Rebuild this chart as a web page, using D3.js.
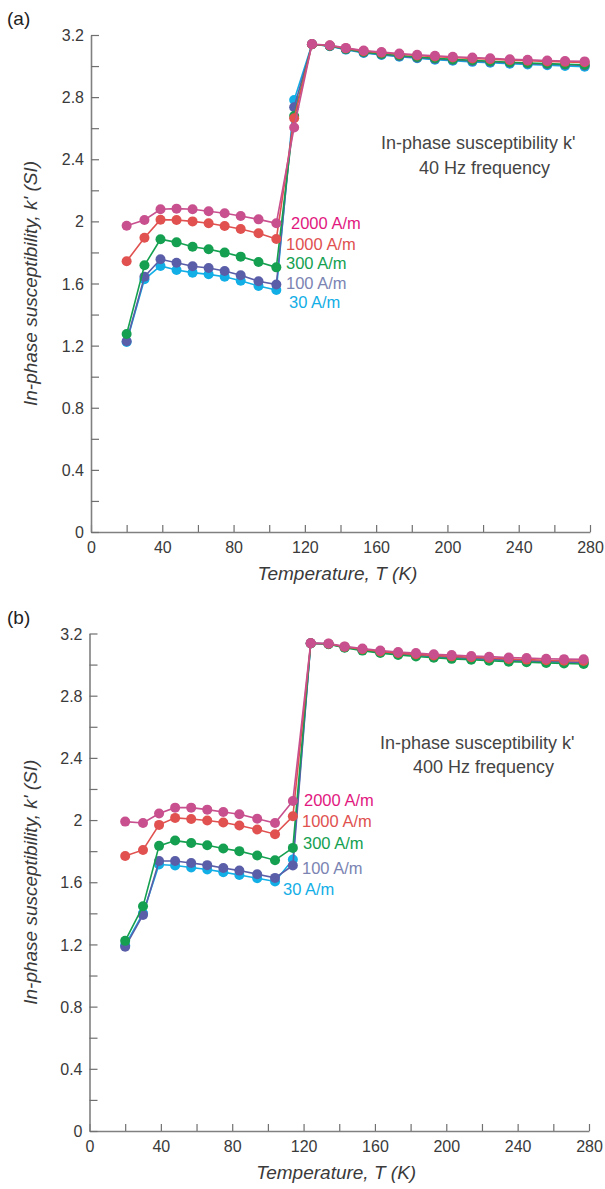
<!DOCTYPE html>
<html>
<head>
<meta charset="utf-8">
<script src="https://cdn.jsdelivr.net/npm/d3@7"></script>
<style>
  body { margin: 0; background: #fff; }
  svg { display: block; font-family: "Liberation Sans", Arial, Helvetica, sans-serif; }
</style>
</head>
<body>
<svg width="605" height="1189"></svg>
<script>

	// temperatura (K) de cada medida
	var temps = [20, 30, 39, 48, 57, 66, 75, 84, 94, 104, 114, 124, 134, 143, 153, 163, 173, 183, 193, 203, 214, 224, 235, 245, 256, 266, 277];

	var fieldNames = ["30 A/m", "100 A/m", "300 A/m", "1000 A/m", "2000 A/m"];

	// (a) 40 Hz
	var k30_40 = [1.223, 1.627, 1.713, 1.687, 1.670, 1.659, 1.644, 1.618, 1.584, 1.558, 2.782,
		3.140, 3.128, 3.106, 3.084, 3.071, 3.060, 3.050, 3.041, 3.034, 3.027, 3.021, 3.015, 3.010, 3.005, 3.001, 2.996];
	var k100_40 = [1.228, 1.644, 1.756, 1.734, 1.711, 1.700, 1.681, 1.653, 1.614, 1.593, 2.735,
		3.140, 3.129, 3.108, 3.088, 3.075, 3.064, 3.054, 3.046, 3.039, 3.033, 3.027, 3.021, 3.016, 3.012, 3.008, 3.004];
	var k300_40 = [1.275, 1.717, 1.885, 1.865, 1.837, 1.820, 1.799, 1.773, 1.739, 1.704, 2.679,
		3.140, 3.130, 3.110, 3.090, 3.078, 3.068, 3.058, 3.050, 3.043, 3.037, 3.031, 3.025, 3.020, 3.016, 3.012, 3.008];
	var k1000_40 = [1.743, 1.895, 2.011, 2.009, 2.000, 1.988, 1.970, 1.951, 1.923, 1.887, 2.664,
		3.140, 3.132, 3.114, 3.096, 3.086, 3.076, 3.068, 3.061, 3.055, 3.049, 3.044, 3.038, 3.034, 3.030, 3.027, 3.024];
	var k2000_40 = [1.972, 2.009, 2.078, 2.082, 2.078, 2.065, 2.052, 2.035, 2.013, 1.988, 2.605,
		3.142, 3.134, 3.117, 3.100, 3.090, 3.081, 3.073, 3.066, 3.060, 3.055, 3.050, 3.044, 3.040, 3.036, 3.033, 3.030];

	// (b) 400 Hz
	var k30_400 = [1.195, 1.400, 1.714, 1.708, 1.695, 1.682, 1.665, 1.647, 1.626, 1.605, 1.746,
		3.137, 3.133, 3.111, 3.094, 3.079, 3.067, 3.058, 3.050, 3.044, 3.038, 3.032, 3.026, 3.022, 3.018, 3.015, 3.012];
	var k100_400 = [1.185, 1.390, 1.737, 1.737, 1.724, 1.710, 1.692, 1.675, 1.652, 1.628, 1.708,
		3.137, 3.133, 3.112, 3.095, 3.080, 3.069, 3.060, 3.052, 3.046, 3.040, 3.034, 3.028, 3.024, 3.020, 3.017, 3.014];
	var k300_400 = [1.223, 1.446, 1.834, 1.868, 1.853, 1.838, 1.817, 1.800, 1.772, 1.742, 1.821,
		3.136, 3.131, 3.108, 3.090, 3.074, 3.062, 3.052, 3.044, 3.037, 3.031, 3.025, 3.019, 3.015, 3.011, 3.007, 3.004];
	var k1000_400 = [1.769, 1.808, 1.969, 2.014, 2.007, 1.997, 1.984, 1.965, 1.939, 1.909, 2.024,
		3.137, 3.134, 3.114, 3.099, 3.085, 3.074, 3.066, 3.059, 3.053, 3.047, 3.042, 3.036, 3.032, 3.028, 3.025, 3.023];
	var k2000_400 = [1.990, 1.981, 2.042, 2.080, 2.080, 2.067, 2.052, 2.037, 2.009, 1.981, 2.123,
		3.138, 3.136, 3.117, 3.104, 3.091, 3.081, 3.074, 3.067, 3.061, 3.055, 3.051, 3.045, 3.042, 3.038, 3.035, 3.034];

	var xTicks = [0, 40, 80, 120, 160, 200, 240, 280];
	var yTicks = [0, 0.4, 0.8, 1.2, 1.6, 2, 2.4, 2.8, 3.2];

	var lineColors = ["#12aee6", "#5a5ea8", "#14a050", "#e0514f", "#c8508e"];
	var labelColors = ["#12aee6", "#7b84b2", "#14a050", "#e0514f", "#e2187f"];

	var svg = d3.select("svg");

	drawPanel({
		letter: "(a)", top: 35, left: 91, width: 499, height: 497,
		series: [k30_40, k100_40, k300_40, k1000_40, k2000_40],
		note: ["In-phase susceptibility k'", "40 Hz frequency"],
		noteX: [381, 419], noteY: [149, 174],
		labelX: [289, 286, 286, 286, 291], labelY: [308, 289, 269, 250, 229]
	});

	drawPanel({
		letter: "(b)", top: 633.5, left: 89.5, width: 499.5, height: 497.5,
		series: [k30_400, k100_400, k300_400, k1000_400, k2000_400],
		note: ["In-phase susceptibility k'", "400 Hz frequency"],
		noteX: [380, 413], noteY: [749, 773],
		labelX: [283, 302, 303, 302, 304], labelY: [895, 874, 849, 827, 806]
	});

	function drawPanel(p){

		var x = d3.scaleLinear().domain([0, 280]).range([p.left, p.left + p.width]);
		var y = d3.scaleLinear().domain([0, 3.2]).range([p.top + p.height, p.top]);

		var g = svg.append("g");

		// ejes: marcas hacia dentro cada 20 K y cada 0.2
		var xAxis = g.append("g")
			.attr("transform", "translate(0," + (p.top + p.height) + ")")
			.call(d3.axisBottom(x).tickValues(d3.range(0, 281, 20)).tickSizeInner(-7).tickSizeOuter(0)
				.tickFormat(function(d){ return xTicks.indexOf(d) >= 0 ? d : ""; }));

		var yAxis = g.append("g")
			.attr("transform", "translate(" + p.left + ",0)")
			.call(d3.axisLeft(y).tickValues(d3.range(0, 3.21, 0.2).map(function(d){ return +d.toFixed(1); }))
				.tickSizeInner(-8).tickSizeOuter(0)
				.tickFormat(function(d){ return yTicks.indexOf(d) >= 0 ? d : ""; }));

		[xAxis, yAxis].forEach(function(a){
			a.select(".domain").attr("stroke", "#808080").attr("stroke-width", 1.6);
			a.selectAll(".tick line").attr("stroke", "#707070").attr("stroke-width", 1.2);
			a.selectAll(".tick text").attr("fill", "#3a3a3a").style("font-size", "16px");
		});
		xAxis.selectAll(".tick text").attr("y", 10).attr("dy", "0.71em");
		yAxis.selectAll(".tick text").attr("x", -7).attr("dy", "0.35em");

		g.append("text")
			.attr("x", x(140) - 3)
			.attr("y", p.top + p.height + 48)
			.attr("text-anchor", "middle")
			.attr("fill", "#3a3a3a")
			.style("font-size", "19px")
			.style("font-style", "italic")
			.text("Temperature, T (K)");

		g.append("text")
			.attr("transform", "translate(37," + (p.top + p.height / 2) + ") rotate(-90)")
			.attr("text-anchor", "middle")
			.attr("fill", "#3a3a3a")
			.style("font-size", "19px")
			.style("font-style", "italic")
			.text("In-phase susceptibility, k' (SI)");

		g.append("text")
			.attr("x", 7)
			.attr("y", p.top - 10)
			.attr("fill", "#222")
			.style("font-size", "19px")
			.text(p.letter);

		var line = d3.line()
			.x(function(d) { return x(d.t); })
			.y(function(d) { return y(d.k); });

		var data = p.series.map(function(s, i){
			return { i: i, values: s.map(function(v, j){ return { t: temps[j], k: v }; }) };
		});

		var series = g.selectAll(".serie")
			.data(data)
			.enter().append("g")
				.attr("class", "serie");

		series.append("path")
			.attr("d", function(d) { return line(d.values); })
			.attr("fill", "none")
			.attr("stroke", function(d) { return lineColors[d.i]; })
			.attr("stroke-width", 1.6);

		series.selectAll("circle")
			.data(function(d) { return d.values.map(function(v){ v.i = d.i; return v; }); })
			.enter().append("circle")
				.attr("cx", function(d) { return x(d.t); })
				.attr("cy", function(d) { return y(d.k); })
				.attr("r", 5)
				.attr("fill", function(d) { return lineColors[d.i]; });

		fieldNames.forEach(function(name, i){
			g.append("text")
				.attr("x", p.labelX[i])
				.attr("y", p.labelY[i])
				.attr("fill", labelColors[i])
				.style("font-size", "16.5px")
				.text(name);
		});

		p.note.forEach(function(s, i){
			g.append("text")
				.attr("x", p.noteX[i])
				.attr("y", p.noteY[i])
				.attr("fill", "#444")
				.style("font-size", "18px")
				.text(s);
		});
	}

</script>
</body>
</html>
